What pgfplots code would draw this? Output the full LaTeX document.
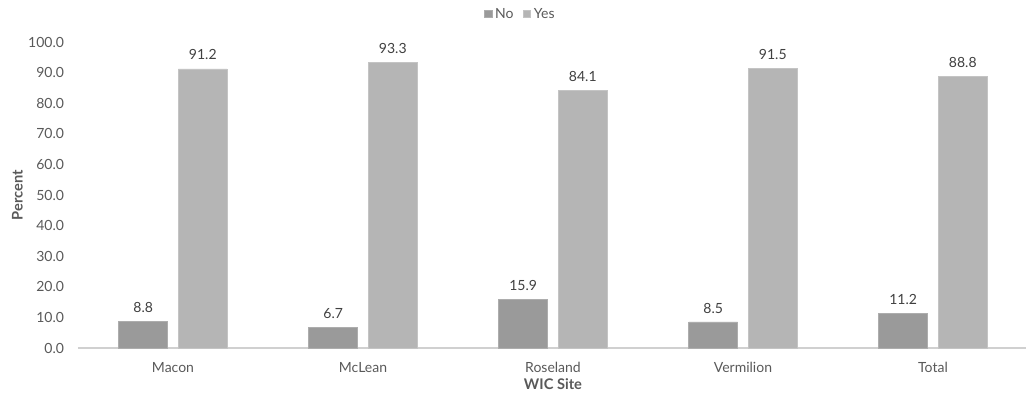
\documentclass[border=0pt]{standalone}
\usepackage{pgfplots}
\pgfplotsset{compat=1.18}
\usepackage{fontspec}
\setmainfont{Lato}
\definecolor{noFill}{HTML}{9A9A9A}
\definecolor{noEdge}{HTML}{ADADAD}
\definecolor{yesFill}{HTML}{B5B5B5}
\definecolor{yesEdge}{HTML}{C4C4C4}
\definecolor{tickGray}{HTML}{595959}
\definecolor{lblGray}{HTML}{404040}
\definecolor{axisGray}{HTML}{D0D0D0}
\begin{document}
\begin{tikzpicture}[x=0.75pt,y=0.75pt]
\useasboundingbox (-78,-54) rectangle (948,348);
\begin{axis}[
  at={(0,0)}, anchor=south west,
  scale only axis,
  width=712.5pt, height=229.5pt,
  ybar,
  bar width=0.257,
  xmin=-0.5, xmax=4.5,
  ymin=0, ymax=100,
  xtick=data,
  xticklabels={Macon,McLean,Roseland,Vermilion,Total},
  ytick={0,10,...,100},
  yticklabel={\pgfmathprintnumber[fixed,fixed zerofill,precision=1]{\tick}},
  /pgf/number format/assume math mode=true,
  ticklabel style={font=\fontsize{10.5}{12}\selectfont, text=tickGray},
  major tick length=0pt,
  axis x line*=bottom,
  axis y line*=left,
  x axis line style={draw=axisGray, line width=0.9pt, -},
  y axis line style={draw=none},
  ylabel={\textbf{Percent}},
  xlabel={\textbf{WIC Site}},
  label style={font=\fontsize{11}{13}\selectfont, text=tickGray},
  ylabel style={at={(axis description cs:0,0.5)}, anchor=south, yshift=38pt},
  xlabel style={yshift=2pt},
  yticklabel style={xshift=-7pt},
  xticklabel style={yshift=-7pt},
  nodes near coords={\pgfmathprintnumber[fixed,fixed zerofill,precision=1]{\pgfplotspointmeta}},
  nodes near coords style={font=\fontsize{10.5}{12}\selectfont, text=lblGray, yshift=3pt},
  legend style={at={(0.466,1.0915)}, anchor=center, draw=none, fill=none,
    legend columns=2, font=\fontsize{10.5}{12}\selectfont, text=tickGray,
    /tikz/every even column/.append style={column sep=5pt}},
  legend image code/.code={\draw[#1] (0cm,-0.1cm) rectangle (0.2cm,0.1cm);},
  clip=false,
]
\addplot[fill=noFill, draw=noEdge, line width=0.6pt, bar shift=-0.157]
  coordinates {(0,8.8) (1,6.7) (2,15.9) (3,8.5) (4,11.2)};
\addplot[fill=yesFill, draw=yesEdge, line width=0.6pt, bar shift=0.157]
  coordinates {(0,91.2) (1,93.3) (2,84.1) (3,91.5) (4,88.8)};
\legend{No,Yes}
\end{axis}
\end{tikzpicture}
\end{document}
